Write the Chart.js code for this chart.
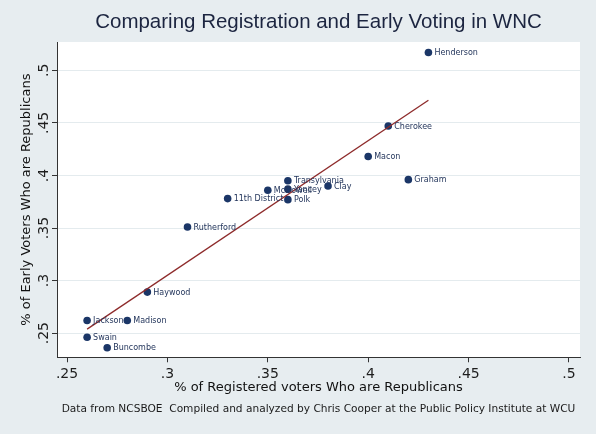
<!DOCTYPE html>
<html>
<head>
<meta charset="utf-8">
<script src="https://cdn.jsdelivr.net/npm/chart.js@4.4.0/dist/chart.umd.min.js"></script>
<style>
  html, body { margin: 0; padding: 0; background: #e7edf0; }
  #wrap { width: 596px; height: 434px; }
</style>
</head>
<body>
<div id="wrap"><canvas id="chart"></canvas></div>
<script>
// county, % registered Republican, % early voters Republican
const counties = ["Henderson", "Cherokee", "Macon", "Graham", "Transylvania", "Yancey", "Clay",
  "McDowell", "11th District", "Polk", "Rutherford", "Haywood", "Jackson", "Madison", "Swain", "Buncombe"];
const regShare = [0.43, 0.41, 0.40, 0.42, 0.36, 0.36, 0.38, 0.35, 0.33, 0.36, 0.31, 0.29, 0.26, 0.28, 0.26, 0.27];
const earlyShare = [0.517, 0.447, 0.418, 0.396, 0.395, 0.387, 0.390, 0.386, 0.378, 0.377, 0.351, 0.289, 0.262, 0.262, 0.246, 0.236];

// linear fit line end points
const fitX = [0.26, 0.43];
const fitY = [0.2538, 0.4715];

const xTicks = [0.25, 0.3, 0.35, 0.4, 0.45, 0.5];
const yTicks = [0.25, 0.3, 0.35, 0.4, 0.45, 0.5];

const navy = "#1b3667";
const fmt = v => String(Math.round(v * 100) / 100).replace(/^0/, "");

const paintBg = {
  id: "paintBg",
  beforeDraw(chart) {
    const { ctx, chartArea: a } = chart;
    ctx.save();
    ctx.fillStyle = "#e7edf0";
    ctx.fillRect(0, 0, chart.width, chart.height);
    ctx.fillStyle = "#ffffff";
    ctx.fillRect(a.left, a.top, a.right - a.left, a.bottom - a.top);
    ctx.restore();
  }
};

// rotated y tick labels, Stata style
const yTickText = {
  id: "yTickText",
  afterDraw(chart) {
    const y = chart.scales.y;
    const ctx = chart.ctx;
    ctx.save();
    ctx.font = '14px "DejaVu Sans"';
    ctx.fillStyle = "#1e1e1e";
    ctx.textAlign = "center";
    ctx.textBaseline = "alphabetic";
    y.ticks.forEach(t => {
      ctx.save();
      ctx.translate(48, y.getPixelForValue(t.value));
      ctx.rotate(-Math.PI / 2);
      ctx.fillText(fmt(t.value), 0, 0);
      ctx.restore();
    });
    ctx.restore();
  }
};

const pointNames = {
  id: "pointNames",
  afterDatasetsDraw(chart) {
    const ctx = chart.ctx;
    const meta = chart.getDatasetMeta(1);
    ctx.save();
    ctx.font = '8px "DejaVu Sans"';
    ctx.fillStyle = "#24365c";
    ctx.textAlign = "left";
    ctx.textBaseline = "middle";
    meta.data.forEach((pt, i) => {
      ctx.fillText(counties[i], pt.x + 6, pt.y + 0.5);
    });
    ctx.restore();
  }
};

new Chart(document.getElementById("chart"), {
  type: "scatter",
  data: {
    datasets: [
      {
        type: "line",
        data: fitX.map((x, i) => ({ x, y: fitY[i] })),
        borderColor: "#8e2b2b",
        borderWidth: 1.3,
        pointRadius: 0,
        fill: false
      },
      {
        data: regShare.map((x, i) => ({ x, y: earlyShare[i] })),
        backgroundColor: navy,
        borderWidth: 0,
        pointRadius: 3.8
      }
    ]
  },
  options: {
    responsive: true,
    maintainAspectRatio: false,
    animation: false,
    layout: { padding: { left: 0, right: 16, top: 0, bottom: 0 } },
    plugins: {
      legend: { display: false },
      tooltip: { enabled: false },
      title: {
        display: true,
        fullSize: false,
        text: "Comparing Registration and Early Voting in WNC",
        color: "#1c2540",
        font: { family: "Liberation Sans", size: 20.5, weight: "normal" },
        padding: { top: 10, bottom: 7.4 }
      },
      subtitle: {
        display: true,
        position: "bottom",
        fullSize: false,
        text: "Data from NCSBOE  Compiled and analyzed by Chris Cooper at the Public Policy Institute at WCU",
        color: "#1a1a1a",
        font: { family: "DejaVu Sans", size: 10.6 },
        padding: { top: 6, bottom: 18 }
      }
    },
    scales: {
      x: {
        type: "linear",
        min: 0.245,
        max: 0.5055,
        afterBuildTicks: s => { s.ticks = xTicks.map(v => ({ value: v })); },
        afterFit: s => { s.height = 40; },
        grid: { drawOnChartArea: false, drawTicks: true, tickLength: 5, tickColor: "#333" },
        border: { color: "#333", width: 1 },
        ticks: {
          color: "#1e1e1e",
          font: { family: "DejaVu Sans", size: 14 },
          padding: 4,
          maxRotation: 0,
          callback: v => fmt(v)
        },
        title: {
          display: true,
          text: "% of Registered voters Who are Republicans",
          color: "#111",
          font: { family: "DejaVu Sans", size: 13 },
          padding: { top: 0, bottom: 2 }
        }
      },
      y: {
        type: "linear",
        min: 0.227,
        max: 0.527,
        afterBuildTicks: s => { s.ticks = yTicks.map(v => ({ value: v })); },
        afterFit: s => { s.width = 57; },
        grid: { color: "#e4ebee", lineWidth: 1, drawTicks: true, tickLength: 5, tickColor: "#333" },
        border: { color: "#333", width: 1 },
        ticks: { display: false },
        title: {
          display: true,
          text: "% of Early Voters Who are Republicans",
          color: "#111",
          font: { family: "DejaVu Sans", size: 13 },
          padding: { top: 19, bottom: 0 }
        }
      }
    }
  },
  plugins: [paintBg, pointNames, yTickText]
});
</script>
</body>
</html>
